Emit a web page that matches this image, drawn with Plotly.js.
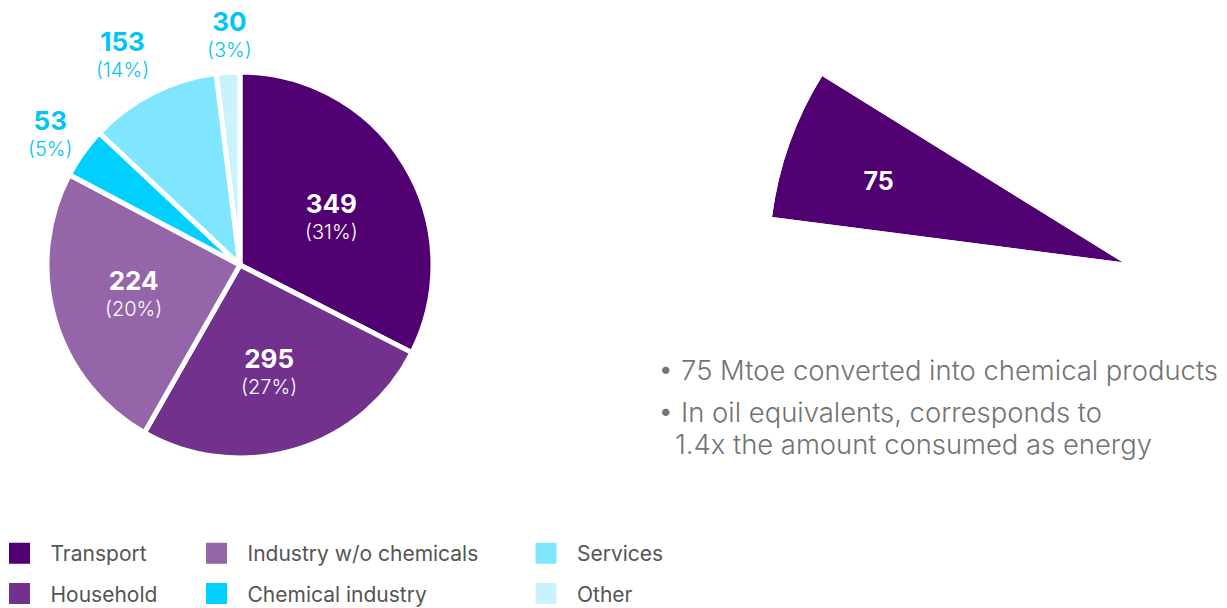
<!DOCTYPE html>
<html><head><meta charset="utf-8">
<script src="https://cdn.plot.ly/plotly-3.0.1.min.js"></script>
<style>html,body{margin:0;padding:0;background:#fff}</style>
</head><body><div id="chart" style="width:1227px;height:608px"></div>
<script>
// ---- data ----
const categories = ["Transport", "Household", "Industry w/o chemicals", "Chemical industry", "Services", "Other"];
const values = [349, 295, 224, 53, 153, 30];            // Mtoe, as labelled
const percentLabels = ["31%", "27%", "20%", "5%", "14%", "3%"];
// slice sizes as actually drawn in the reference pie (degrees of arc)
const sliceAnglesDrawn = [117.0, 92.7, 88.2, 15.3, 39.7, 7.1];
const colors = ["#500070", "#71318D", "#9565AA", "#00D0FF", "#80E6FF", "#C8F3FC"];
const feedstockValue = 75;   // Mtoe converted into chemical products
const legendColumns = [
  ["Transport", "Household"],
  ["Industry w/o chemicals", "Chemical industry"],
  ["Services", "Other"]
];
const notes = [
  "• 75 Mtoe converted into chemical products",
  "• In oil equivalents, corresponds to",
  "1.4x the amount consumed as energy"
];

// ---- layout (pixel positions of the value labels, in page pixels) ----
const W = 1227, H = 608;
const px = v => v / W;
const py = v => 1 - v / H;
const labelPos = [[331, 216], [268.5, 371], [133.5, 293], [50, 133], [122.5, 54], [229, 34]];
const labelInside = [true, true, true, false, false, false];

const total = values.reduce((a, b) => a + b, 0);
const span = feedstockValue / total * 360;
const wedgeStart = 148.2;

const traces = [];

traces.push({
  type: 'pie',
  labels: categories,
  values: sliceAnglesDrawn,
  customdata: values.map((v, i) => [v, percentLabels[i]]),
  sort: false,
  direction: 'clockwise',
  rotation: 0,
  showlegend: false,
  textinfo: 'none',
  hovertemplate: '%{label}: %{customdata[0]} (%{customdata[1]})<extra></extra>',
  domain: {x: [px(47), px(433)], y: [py(458), py(72)]},
  marker: {colors: colors, line: {color: '#ffffff', width: 5}}
});

traces.push({
  type: 'barpolar',
  r: [feedstockValue],
  theta: [span / 2],
  width: [span],
  marker: {color: colors[0], line: {width: 0}},
  showlegend: false,
  hoverinfo: 'r',
  subplot: 'polar'
});

traces.push({
  type: 'scatterpolar',
  mode: 'text',
  r: [feedstockValue * 0.725],
  theta: [span * 0.57],
  text: ['<b>' + feedstockValue + '</b>'],
  textfont: {family: 'Inter, Roboto, sans-serif', size: 25, color: '#ffffff'},
  showlegend: false,
  hoverinfo: 'skip',
  subplot: 'polar'
});

const legendIds = ['legend', 'legend2', 'legend3'];
legendColumns.forEach((col, ci) => {
  col.forEach(name => {
    const c = colors[categories.indexOf(name)];
    traces.push({
      type: 'scatter', mode: 'markers', x: [null], y: [null],
      name: name, legend: legendIds[ci], legendgroup: name,
      marker: {symbol: 'square', size: 16, color: c, line: {color: c, width: 5}},
      hoverinfo: 'skip'
    });
  });
});

const legendBase = {
  y: py(533), yanchor: 'top', xanchor: 'left', orientation: 'v',
  traceorder: 'grouped', tracegroupgap: 10, itemwidth: 52,
  bgcolor: 'rgba(0,0,0,0)',
  font: {family: 'Inter, Roboto, sans-serif', size: 21, color: '#555555'}
};
const legendX = [-11.5, 185.5, 515];

const noteFont = {family: 'Inter, Roboto, sans-serif', size: 27.4, color: '#737373', weight: 300};
const labelFontFamily = 'Inter, Roboto, sans-serif';

const annotations = [];
values.forEach((v, i) => {
  annotations.push({
    text: '<span style="font-size:26px"><b>' + v + '</b></span><br><span style="font-weight:300">(' + percentLabels[i] + ')</span>',
    x: px(labelPos[i][0]), y: py(labelPos[i][1]), xref: 'paper', yref: 'paper',
    xanchor: 'center', yanchor: 'middle', showarrow: false, align: 'center',
    font: {family: labelFontFamily, size: 20, color: labelInside[i] ? '#ffffff' : '#00C5F5'}
  });
});
annotations.push(
  {text: notes[0], x: px(656), y: py(370), xref: 'paper', yref: 'paper', xanchor: 'left', yanchor: 'middle', showarrow: false, font: noteFont},
  {text: notes[1], x: px(656), y: py(412), xref: 'paper', yref: 'paper', xanchor: 'left', yanchor: 'middle', showarrow: false, font: noteFont},
  {text: notes[2], x: px(673), y: py(444), xref: 'paper', yref: 'paper', xanchor: 'left', yanchor: 'middle', showarrow: false, font: noteFont}
);

const layout = {
  width: W, height: H,
  margin: {l: 0, r: 0, t: 0, b: 0, autoexpand: false},
  paper_bgcolor: '#ffffff', plot_bgcolor: 'rgba(0,0,0,0)',
  showlegend: true,
  xaxis: {visible: false}, yaxis: {visible: false},
  legend: Object.assign({}, legendBase, {x: px(legendX[0])}),
  legend2: Object.assign({}, legendBase, {x: px(legendX[1])}),
  legend3: Object.assign({}, legendBase, {x: px(legendX[2])}),
  polar: {
    domain: {x: [px(772), px(1122.7)], y: [py(262.3), py(76)]},
    sector: [wedgeStart, wedgeStart + span],
    bgcolor: 'rgba(0,0,0,0)',
    radialaxis: {visible: false, range: [0, feedstockValue]},
    angularaxis: {visible: false, rotation: wedgeStart, direction: 'counterclockwise'}
  },
  annotations: annotations
};

Plotly.newPlot('chart', traces, layout, {displayModeBar: false, responsive: false});
</script>
</body></html>
